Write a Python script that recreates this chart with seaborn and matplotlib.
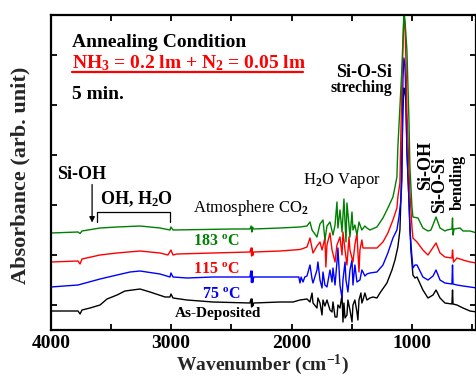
import matplotlib
matplotlib.use("Agg")
import matplotlib.pyplot as plt
import seaborn as sns
import numpy as np
from matplotlib.lines import Line2D
from matplotlib.ticker import MultipleLocator, NullFormatter

# ---------------- data (wavenumber cm^-1, absorbance arb. unit) ----------------
as_deposited = [
    (4000, -0.024), (3774, -0.024), (3757, -0.036), (3741, -0.020), (3674, -0.012),
    (3591, 0.000), (3533, 0.024), (3450, 0.040), (3384, 0.056), (3259, 0.064),
    (3176, 0.052), (3051, 0.032), (3010, 0.032), (3002, 0.044), (2985, 0.028),
    (2869, 0.020), (2653, 0.012), (2346, 0.008), (2337, 0.024), (2332, -0.008),
    (2328, 0.024), (2323, -0.004), (2314, 0.008), (2096, 0.012), (1988, 0.012),
    (1930, 0.020), (1872, 0.024), (1847, 0.012), (1830, 0.048), (1822, 0.008),
    (1789, -0.012), (1781, 0.028), (1764, 0.008), (1747, -0.040), (1739, 0.020),
    (1723, -0.004), (1706, 0.020), (1681, -0.020), (1664, -0.028), (1656, 0.012),
    (1639, -0.048), (1623, -0.048), (1615, 0.000), (1598, -0.012), (1581, 0.040),
    (1573, -0.068), (1565, 0.008), (1556, -0.052), (1540, -0.040), (1532, 0.020),
    (1515, -0.020), (1498, -0.068), (1490, 0.000), (1474, 0.020), (1457, -0.028),
    (1449, -0.060), (1440, 0.020), (1424, 0.048), (1416, 0.008), (1407, 0.020),
    (1391, 0.048), (1374, 0.020), (1349, 0.028), (1324, 0.032), (1291, 0.028),
    (1266, 0.048), (1208, 0.088), (1166, 0.140), (1141, 0.180), (1117, 0.232),
    (1100, 0.300), (1092, 0.420), (1083, 0.620), (1075, 0.780), (1067, 0.868),
    (1058, 0.852), (1050, 0.820), (1042, 0.620), (1025, 0.420), (1009, 0.220),
    (1000, 0.168), (992, 0.120), (975, 0.108), (958, 0.112), (909, 0.060),
    (867, 0.028), (825, 0.040), (800, 0.060), (767, 0.028), (726, 0.008),
    (668, 0.004), (663, 0.060), (659, 0.004), (626, 0.000), (576, -0.012),
    (518, -0.024), (460, -0.028),
]

t75 = [
    (4000, 0.072), (3774, 0.080), (3591, 0.104), (3450, 0.120), (3342, 0.132),
    (3259, 0.136), (3093, 0.124), (3010, 0.112), (3002, 0.128), (2985, 0.112),
    (2869, 0.108), (2653, 0.112), (2346, 0.112), (2338, 0.136), (2333, 0.090),
    (2328, 0.136), (2323, 0.090), (2314, 0.112), (2096, 0.112), (1988, 0.112),
    (1940, 0.112), (1930, 0.088), (1921, 0.112), (1905, 0.092), (1890, 0.112),
    (1872, 0.116), (1847, 0.160), (1830, 0.104), (1822, 0.088), (1789, 0.140),
    (1781, 0.172), (1764, 0.100), (1747, 0.068), (1739, 0.132), (1723, 0.080),
    (1706, 0.072), (1681, 0.140), (1664, 0.092), (1656, 0.148), (1639, 0.080),
    (1623, 0.172), (1615, 0.228), (1598, 0.080), (1581, 0.028), (1573, 0.100),
    (1556, 0.172), (1548, 0.100), (1532, 0.052), (1515, 0.140), (1498, 0.180),
    (1490, 0.080), (1474, 0.160), (1457, 0.092), (1432, 0.100), (1416, 0.140),
    (1407, 0.132), (1391, 0.116), (1374, 0.124), (1349, 0.128), (1291, 0.132),
    (1241, 0.160), (1200, 0.208), (1158, 0.268), (1125, 0.300), (1108, 0.352),
    (1092, 0.420), (1083, 0.500), (1075, 0.900), (1067, 0.988), (1058, 0.960),
    (1050, 0.820), (1042, 0.620), (1025, 0.420), (1017, 0.300), (1000, 0.192),
    (992, 0.148), (975, 0.160), (958, 0.160), (909, 0.112), (867, 0.100),
    (825, 0.116), (800, 0.140), (767, 0.100), (726, 0.088), (668, 0.084),
    (663, 0.160), (659, 0.084), (626, 0.080), (576, 0.076), (518, 0.072),
    (460, 0.068),
]

t115 = [
    (4000, 0.172), (3774, 0.176), (3757, 0.164), (3741, 0.184), (3591, 0.200),
    (3450, 0.208), (3259, 0.216), (3093, 0.208), (3027, 0.200), (3002, 0.220),
    (2985, 0.200), (2952, 0.204), (2653, 0.208), (2346, 0.212), (2337, 0.228),
    (2332, 0.196), (2328, 0.228), (2323, 0.198), (2314, 0.212), (2096, 0.216),
    (1930, 0.222), (1905, 0.226), (1872, 0.232), (1847, 0.268), (1822, 0.208),
    (1789, 0.236), (1764, 0.252), (1747, 0.220), (1723, 0.268), (1715, 0.152),
    (1706, 0.240), (1681, 0.288), (1664, 0.220), (1639, 0.172), (1623, 0.240),
    (1598, 0.272), (1581, 0.200), (1573, 0.292), (1556, 0.220), (1540, 0.160),
    (1523, 0.272), (1515, 0.220), (1490, 0.172), (1474, 0.240), (1457, 0.288),
    (1440, 0.132), (1432, 0.220), (1416, 0.260), (1407, 0.228), (1374, 0.228),
    (1349, 0.228), (1291, 0.228), (1241, 0.252), (1200, 0.288), (1158, 0.340),
    (1125, 0.388), (1117, 0.432), (1100, 0.488), (1083, 0.900), (1067, 1.150),
    (1058, 1.120), (1050, 0.980), (1042, 0.780), (1025, 0.540), (1017, 0.448),
    (1000, 0.312), (992, 0.268), (958, 0.252), (909, 0.220), (867, 0.200),
    (800, 0.248), (767, 0.208), (726, 0.192), (668, 0.188), (663, 0.220),
    (655, 0.172), (626, 0.188), (576, 0.180), (518, 0.172), (460, 0.168),
]

t183 = [
    (4000, 0.288), (3774, 0.292), (3757, 0.286), (3741, 0.296), (3591, 0.308),
    (3450, 0.312), (3259, 0.316), (3093, 0.308), (3010, 0.300), (3002, 0.312),
    (2985, 0.300), (2487, 0.304), (2346, 0.304), (2336, 0.316), (2330, 0.292),
    (2325, 0.312), (2316, 0.304), (2096, 0.308), (1930, 0.312), (1872, 0.316),
    (1847, 0.332), (1830, 0.300), (1789, 0.272), (1764, 0.324), (1739, 0.340),
    (1723, 0.260), (1706, 0.316), (1681, 0.332), (1656, 0.280), (1639, 0.320),
    (1623, 0.412), (1615, 0.308), (1598, 0.380), (1581, 0.292), (1565, 0.424),
    (1548, 0.252), (1540, 0.408), (1523, 0.320), (1515, 0.272), (1498, 0.372),
    (1490, 0.300), (1474, 0.320), (1457, 0.280), (1440, 0.332), (1416, 0.300),
    (1391, 0.316), (1374, 0.308), (1349, 0.300), (1291, 0.312), (1241, 0.348),
    (1200, 0.388), (1158, 0.432), (1141, 0.472), (1125, 0.512), (1117, 0.632),
    (1083, 0.952), (1067, 1.172), (1058, 1.140), (1042, 1.020), (1025, 0.740),
    (1017, 0.552), (1000, 0.392), (992, 0.352), (950, 0.348), (909, 0.308),
    (867, 0.296), (842, 0.300), (800, 0.352), (767, 0.308), (726, 0.296),
    (709, 0.300), (668, 0.304), (663, 0.348), (659, 0.280), (650, 0.304),
    (601, 0.308), (576, 0.296), (518, 0.296), (460, 0.288),
]

series_names = ["As-Deposited", "75 °C", "115 °C", "183 °C"]
series_data = [as_deposited, t75, t115, t183]
series_colors = ["black", "#0000ff", "#ff0000", "#008000"]

x_tick_major = [4000, 3000, 2000, 1000]
x_tick_labels = ["4000", "3000", "2000", "1000"]

# ---------------- style ----------------
sns.set_theme(style="ticks")
plt.rcParams["font.family"] = ["Liberation Serif", "DejaVu Serif"]
plt.rcParams["font.weight"] = "bold"
plt.rcParams["mathtext.fontset"] = "custom"
plt.rcParams["mathtext.rm"] = "Liberation Serif"
plt.rcParams["mathtext.bf"] = "Liberation Serif:bold"
plt.rcParams["mathtext.it"] = "Liberation Serif:italic"
plt.rcParams["mathtext.default"] = "bf"
plt.rcParams["axes.edgecolor"] = "black"
plt.rcParams["xtick.color"] = "black"
plt.rcParams["ytick.color"] = "black"

fig = plt.figure(figsize=(4.77, 3.79), dpi=100)
L, R, T, B = 50.8, 476.0, 15.0, 330.0
W, H = 477.0, 379.0
ax = fig.add_axes([L / W, 1 - B / H, (R - L) / W, (B - T) / H])

for name, data, col in zip(series_names, series_data, series_colors):
    wn, ab = zip(*data)
    sns.lineplot(x=np.array(wn), y=np.array(ab), color=col, lw=1.0, ax=ax,
                 sort=False, estimator=None)

ax.set_xlim(4000, 468)
ax.set_ylim(-0.1, 1.16)
ax.set_xticks(x_tick_major)
ax.set_xticklabels(x_tick_labels, fontsize=14, fontweight="bold")
ax.xaxis.set_minor_locator(MultipleLocator(500))
ax.xaxis.set_minor_formatter(NullFormatter())
ax.set_yticks(np.arange(0, 1.01, 0.2))
ax.set_yticklabels([])
ax.tick_params(axis="both", which="both", direction="in", top=True, right=True,
               width=1.3, length=4.5, pad=3.5)
for sp in ax.spines.values():
    sp.set_linewidth(1.6)
    sp.set_color("black")

ax.set_xlabel("Wavenumber (cm$^{-1}$)", fontsize=14, fontweight="bold")
ax.xaxis.set_label_coords((262 - L) / (R - L), (B - 353) / (B - T))
ax.set_ylabel("Absorbance (arb. unit)", fontsize=16, fontweight="bold",
              va="center", ha="center")
ax.yaxis.set_label_coords((20 - L) / (R - L), (B - 175) / (B - T))

# ---------------- annotations ----------------
def tx(x, y, s, size=13, color="black", weight="bold", **kw):
    ax.text(x, y, s, fontsize=size, color=color, fontweight=weight, **kw)

tx(3824, 1.032, "Annealing Condition", size=14, va="baseline")
tx(3824, 0.948, "NH$_3$ = 0.2 lm + N$_2$ = 0.05 lm", size=14, color="#ff0000",
   va="baseline")
ax.add_line(Line2D([(72 - L) / (R - L), (303 - L) / (R - L)],
                   [(B - 72) / (B - T)] * 2, transform=ax.transAxes,
                   color="#ff0000", lw=1.6))
tx(3824, 0.824, "5 min.", size=14, va="baseline")

tx(1166, 0.912, "Si-O-Si", size=13, ha="right", va="baseline")
tx(1166, 0.852, "streching", size=11.3, ha="right", va="baseline")

tx(1905, 0.484, "H$_\\mathrm{2}$O Vapor", size=12, weight="normal", va="baseline")
tx(2819, 0.372, "Atmosphere CO$_\\mathrm{2}$", size=12, weight="normal",
   va="baseline")

tx(3949, 0.504, "Si-OH", size=13, va="baseline")
ax.annotate("", xy=(3657, 0.330), xytext=(3657, 0.482),
            arrowprops=dict(arrowstyle="-|>", color="black", lw=0.9,
                            mutation_scale=8, shrinkA=0, shrinkB=0))
ax.plot([3616, 3616, 3010, 3010], [0.332, 0.372, 0.372, 0.332], color="black",
        lw=0.9)
tx(3591, 0.404, "OH, H$_2$O", size=13, va="baseline")

tx(2819, 0.236, "183 $^{o}$C", size=11.5, color="#008000", va="baseline")
tx(2819, 0.124, "115 $^{o}$C", size=11.5, color="#ff0000", va="baseline")
tx(2744, 0.024, "75 $^{o}$C", size=11.5, color="#0000ff", va="baseline")
tx(2967, -0.048, "As-Deposited", size=11, va="baseline")

tx(890, 0.46, "Si-OH", size=13, rotation=90, ha="center", va="bottom")
tx(767, 0.368, "Si-O-Si", size=13, rotation=90, ha="center", va="bottom")
tx(618, 0.38, "bending", size=11.5, rotation=90, ha="center", va="bottom")

fig.savefig("out.png", dpi=100)
